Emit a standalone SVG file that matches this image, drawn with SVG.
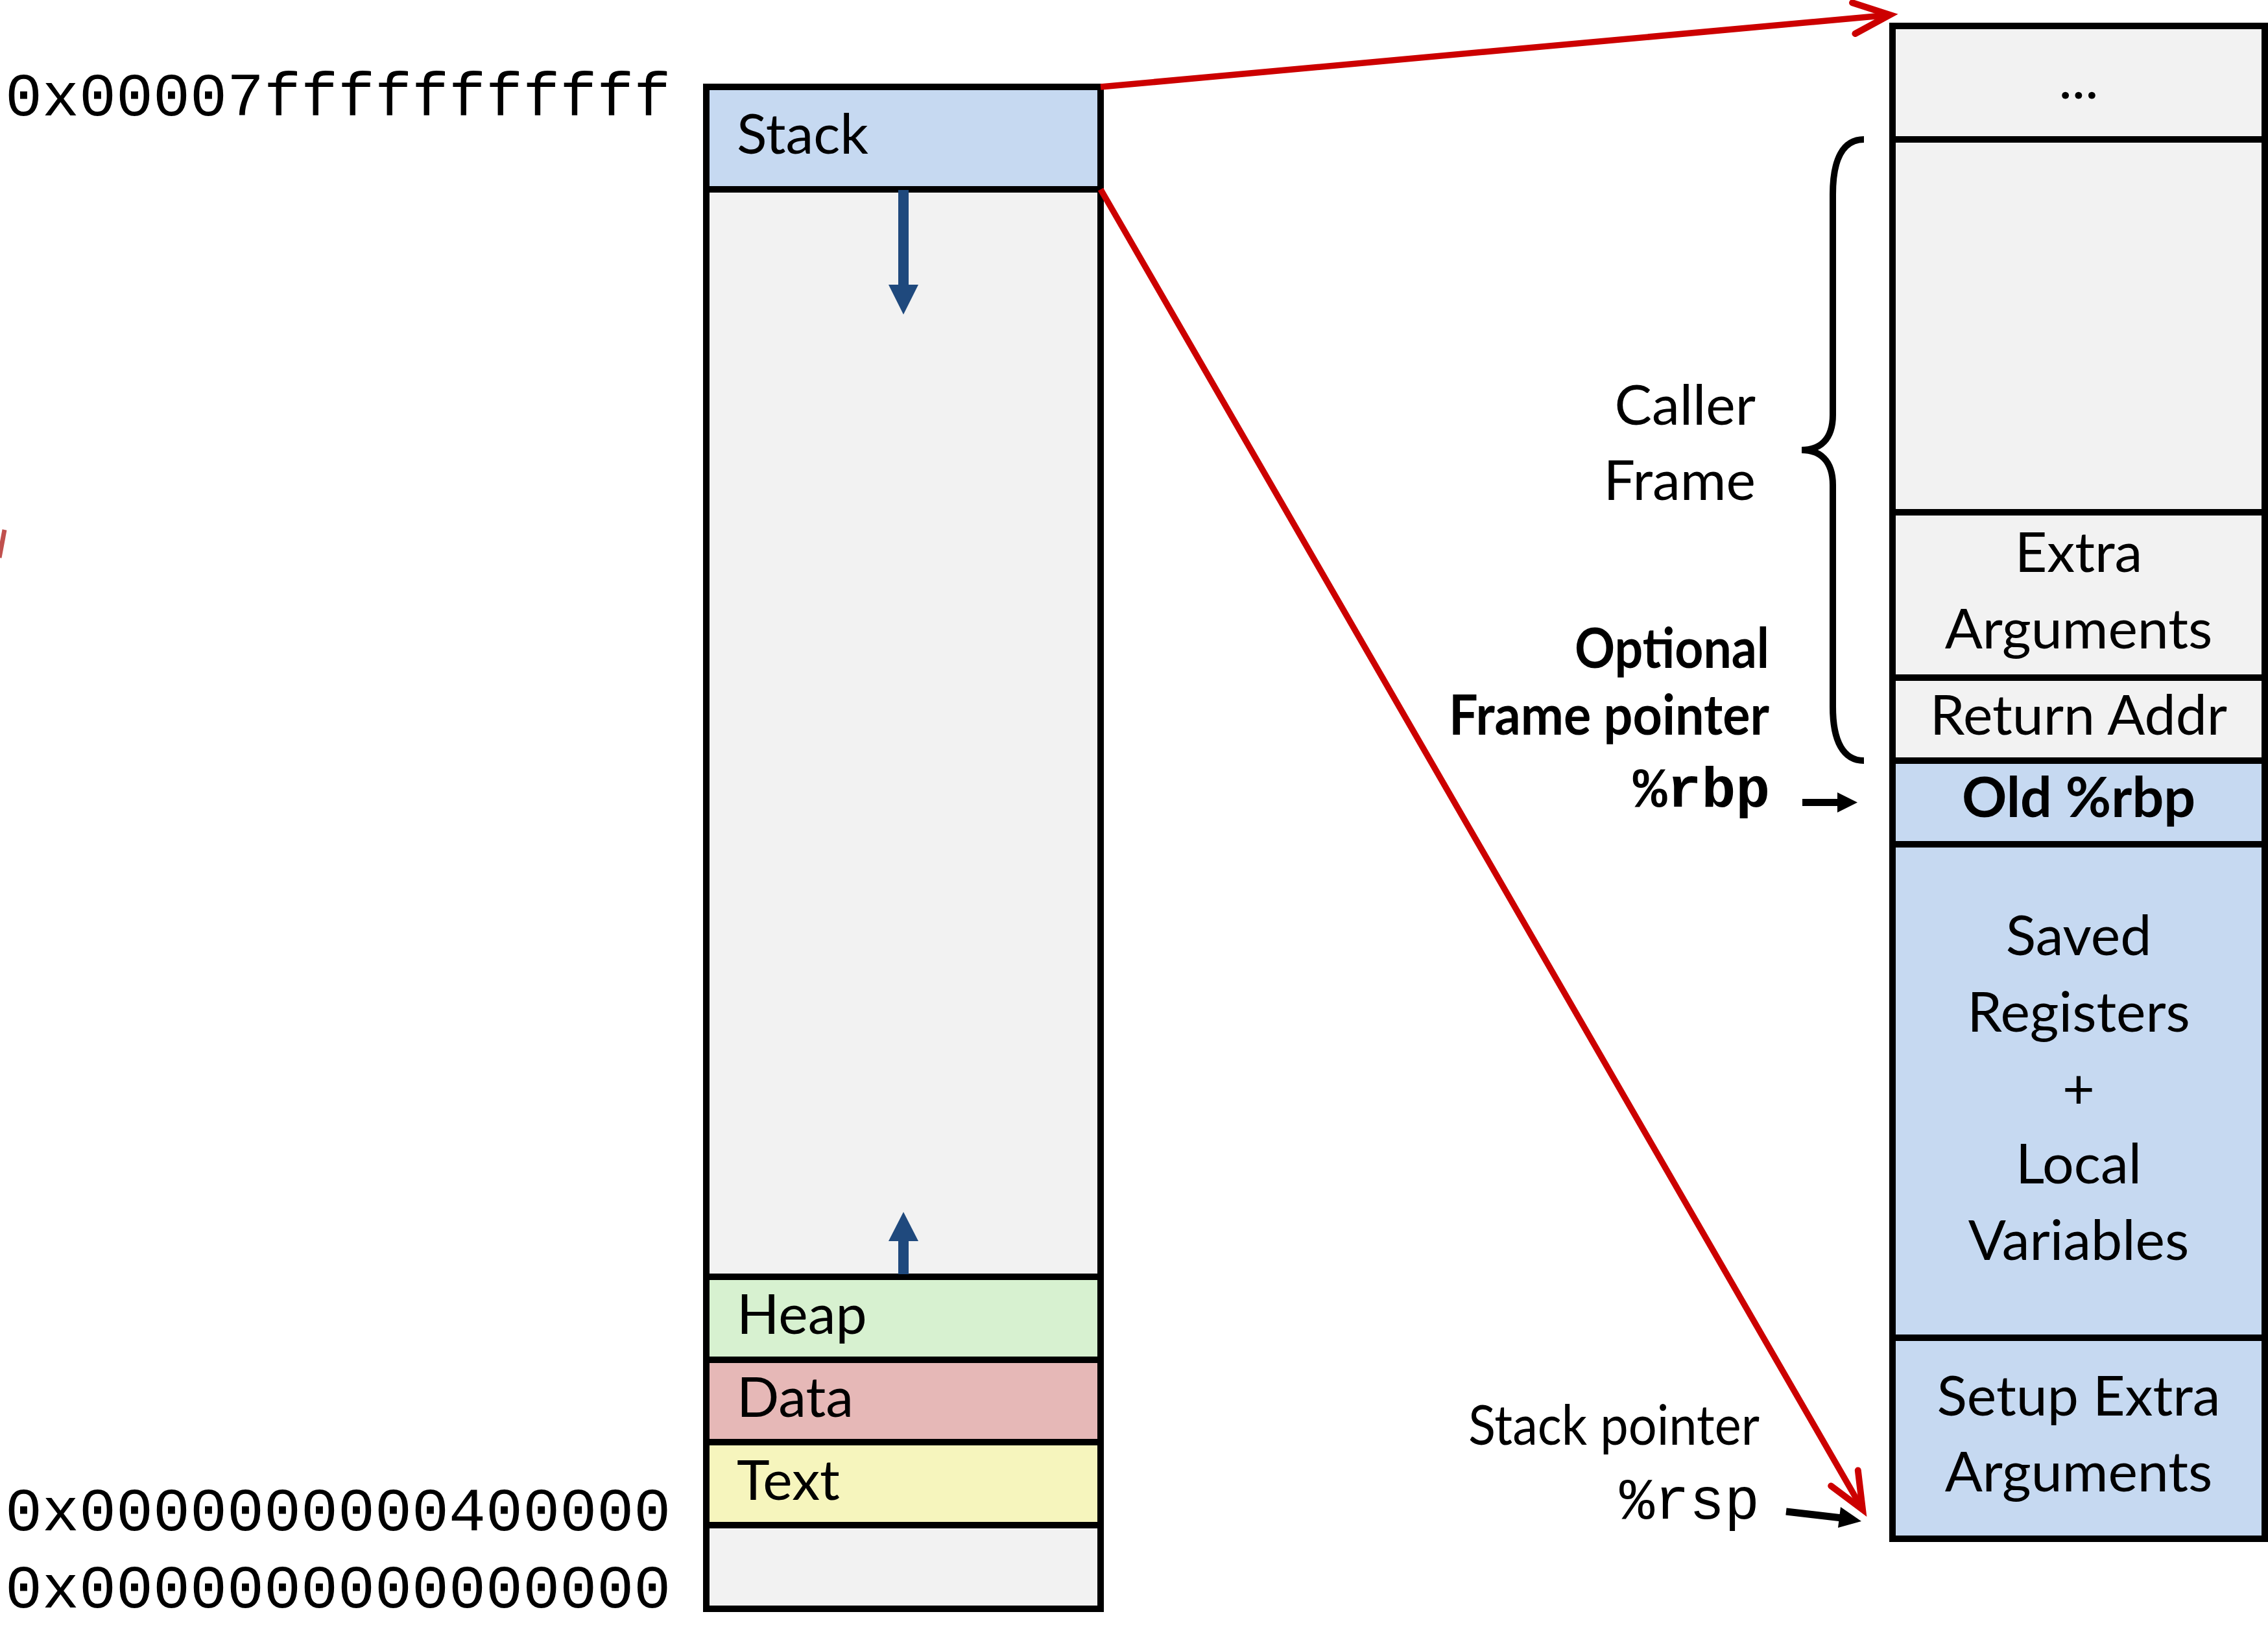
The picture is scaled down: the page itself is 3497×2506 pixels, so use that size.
<svg xmlns="http://www.w3.org/2000/svg" width="3497" height="2506" viewBox="0 0 3497 2506">
  <style>
    .cell { stroke: #000000; stroke-width: 10; }
    .gray { fill: #F2F2F2; }
    .blue { fill: #C6D9F1; }
    .heap { fill: #D7F1D0; }
    .data { fill: #E6B8B7; }
    .textseg { fill: #F6F5BD; }
    .lbl { font-family: Lato, "Liberation Sans", sans-serif; font-size: 86px; fill: #000000; }
    .bold { font-weight: bold; }
    .mid { text-anchor: middle; }
    .end { text-anchor: end; }
    .mono { font-family: "Liberation Mono", "DejaVu Sans Mono", monospace; fill: #000000; }
    .red { stroke: #CC0000; stroke-width: 9.5; fill: none; }
    .growth { fill: #1F497D; }
    .ptr { fill: #000000; }
  </style>
  <defs>
    <marker id="openHead" markerUnits="userSpaceOnUse" orient="auto" refX="0" refY="0" markerWidth="80" markerHeight="80" overflow="visible">
      <path d="M -56 -24 L 0 0 L -56 24" fill="none" stroke="#CC0000" stroke-width="10" stroke-linecap="round" stroke-linejoin="miter"/>
    </marker>
  </defs>

  <rect x="0" y="0" width="3497" height="2506" fill="#FFFFFF"/>

  <!-- stray red stroke at the left margin -->
  <line x1="7" y1="817" x2="-1" y2="860" stroke="#C0504D" stroke-width="7"/>

  <!-- address labels -->
  <g id="addresses">
    <text class="mono" x="8" y="178" font-size="95">0x00007fffffffffff</text>
    <text class="mono" x="8" y="2360" font-size="95">0x0000000000400000</text>
    <text class="mono" x="8" y="2479" font-size="95">0x0000000000000000</text>
  </g>

  <!-- process address space -->
  <g id="address-space">
    <rect class="cell gray" x="1089" y="134" width="608" height="2347"/>
    <g id="seg-stack">
      <rect class="cell blue" x="1089" y="134" width="608" height="158"/>
      <text class="lbl" x="1136" y="237">Stack</text>
    </g>
    <g id="seg-free">
      <rect class="cell gray" x="1089" y="292" width="608" height="1677"/>
    </g>
    <g id="seg-heap">
      <rect class="cell heap" x="1089" y="1969" width="608" height="128"/>
      <text class="lbl" x="1136" y="2057">Heap</text>
    </g>
    <g id="seg-data">
      <rect class="cell data" x="1089" y="2097" width="608" height="127"/>
      <text class="lbl" x="1136" y="2185">Data</text>
    </g>
    <g id="seg-text">
      <rect class="cell textseg" x="1089" y="2224" width="608" height="128"/>
      <text class="lbl" x="1136" y="2313">Text</text>
    </g>
    <g id="seg-low">
      <rect class="cell gray" x="1089" y="2352" width="608" height="129"/>
    </g>
  </g>

  <!-- stack frame detail -->
  <g id="frame">
    <g id="frame-above">
      <rect class="cell gray" x="2918" y="40" width="574" height="175"/>
      <text class="lbl mid" x="3205" y="152">...</text>
    </g>
    <g id="frame-caller">
      <rect class="cell gray" x="2918" y="215" width="574" height="575"/>
    </g>
    <g id="frame-extra-args">
      <rect class="cell gray" x="2918" y="790" width="574" height="255"/>
      <text class="lbl mid" x="3205" y="882">Extra</text>
      <text class="lbl mid" x="3205" y="1000">Arguments</text>
    </g>
    <g id="frame-return">
      <rect class="cell gray" x="2918" y="1045" width="574" height="128"/>
      <text class="lbl mid" x="3205" y="1133">Return Addr</text>
    </g>
    <g id="frame-old-rbp">
      <rect class="cell blue" x="2918" y="1173" width="574" height="129"/>
      <text class="lbl mid bold" x="3205" y="1260">Old %rbp</text>
    </g>
    <g id="frame-locals">
      <rect class="cell blue" x="2918" y="1302" width="574" height="761"/>
      <text class="lbl mid" x="3205" y="1473">Saved</text>
      <text class="lbl mid" x="3205" y="1591">Registers</text>
      <text class="lbl mid" x="3205" y="1709">+</text>
      <text class="lbl mid" x="3205" y="1825">Local</text>
      <text class="lbl mid" x="3205" y="1943">Variables</text>
    </g>
    <g id="frame-setup-args">
      <rect class="cell blue" x="2918" y="2063" width="574" height="310"/>
      <text class="lbl mid" x="3205" y="2183">Setup Extra</text>
      <text class="lbl mid" x="3205" y="2300">Arguments</text>
    </g>
  </g>

  <!-- annotations -->
  <g id="caller-frame-label">
    <path d="M 2874 215 C 2842 215 2826 245 2826 300 L 2826 640 C 2826 678 2806 694 2778 694 C 2806 694 2826 710 2826 748 L 2826 1090 C 2826 1143 2842 1173 2874 1173" fill="none" stroke="#000000" stroke-width="10"/>
    <text class="lbl end" x="2707" y="655">Caller</text>
    <text class="lbl end" x="2707" y="771">Frame</text>
  </g>
  <g id="frame-pointer-label">
    <text class="lbl end bold" x="2728" y="1030" textLength="300" lengthAdjust="spacingAndGlyphs">Optional</text>
    <text class="lbl end bold" x="2728" y="1133" textLength="494" lengthAdjust="spacingAndGlyphs">Frame pointer</text>
    <text class="mono end" x="2729" y="1244" font-size="88" font-weight="bold">%rbp</text>
  </g>
  <g id="stack-pointer-label">
    <text class="lbl end" x="2713" y="2228" textLength="449" lengthAdjust="spacingAndGlyphs">Stack pointer</text>
    <text class="mono end" x="2713" y="2342" font-size="90">%rsp</text>
  </g>

  <!-- connectors -->
  <g id="connectors">
    <line class="red" x1="1697" y1="134" x2="2914" y2="23" marker-end="url(#openHead)"/>
    <line class="red" x1="1697" y1="292" x2="2872" y2="2328" marker-end="url(#openHead)"/>
    <!-- stack grows down -->
    <rect class="growth" x="1385" y="293" width="16" height="147"/>
    <polygon class="growth" points="1370,439 1416,439 1393,485"/>
    <!-- heap grows up -->
    <rect class="growth" x="1385" y="1913" width="16" height="52"/>
    <polygon class="growth" points="1370,1914 1416,1914 1393,1869"/>
    <!-- register pointers -->
    <rect class="ptr" x="2779" y="1232" width="56" height="11"/>
    <polygon class="ptr" points="2833,1222 2864,1237.5 2833,1253"/>
    <line x1="2754" y1="2331" x2="2840" y2="2341" stroke="#000000" stroke-width="11"/>
    <polygon class="ptr" points="2838,2324 2870,2346 2834,2356"/>
  </g>
</svg>
